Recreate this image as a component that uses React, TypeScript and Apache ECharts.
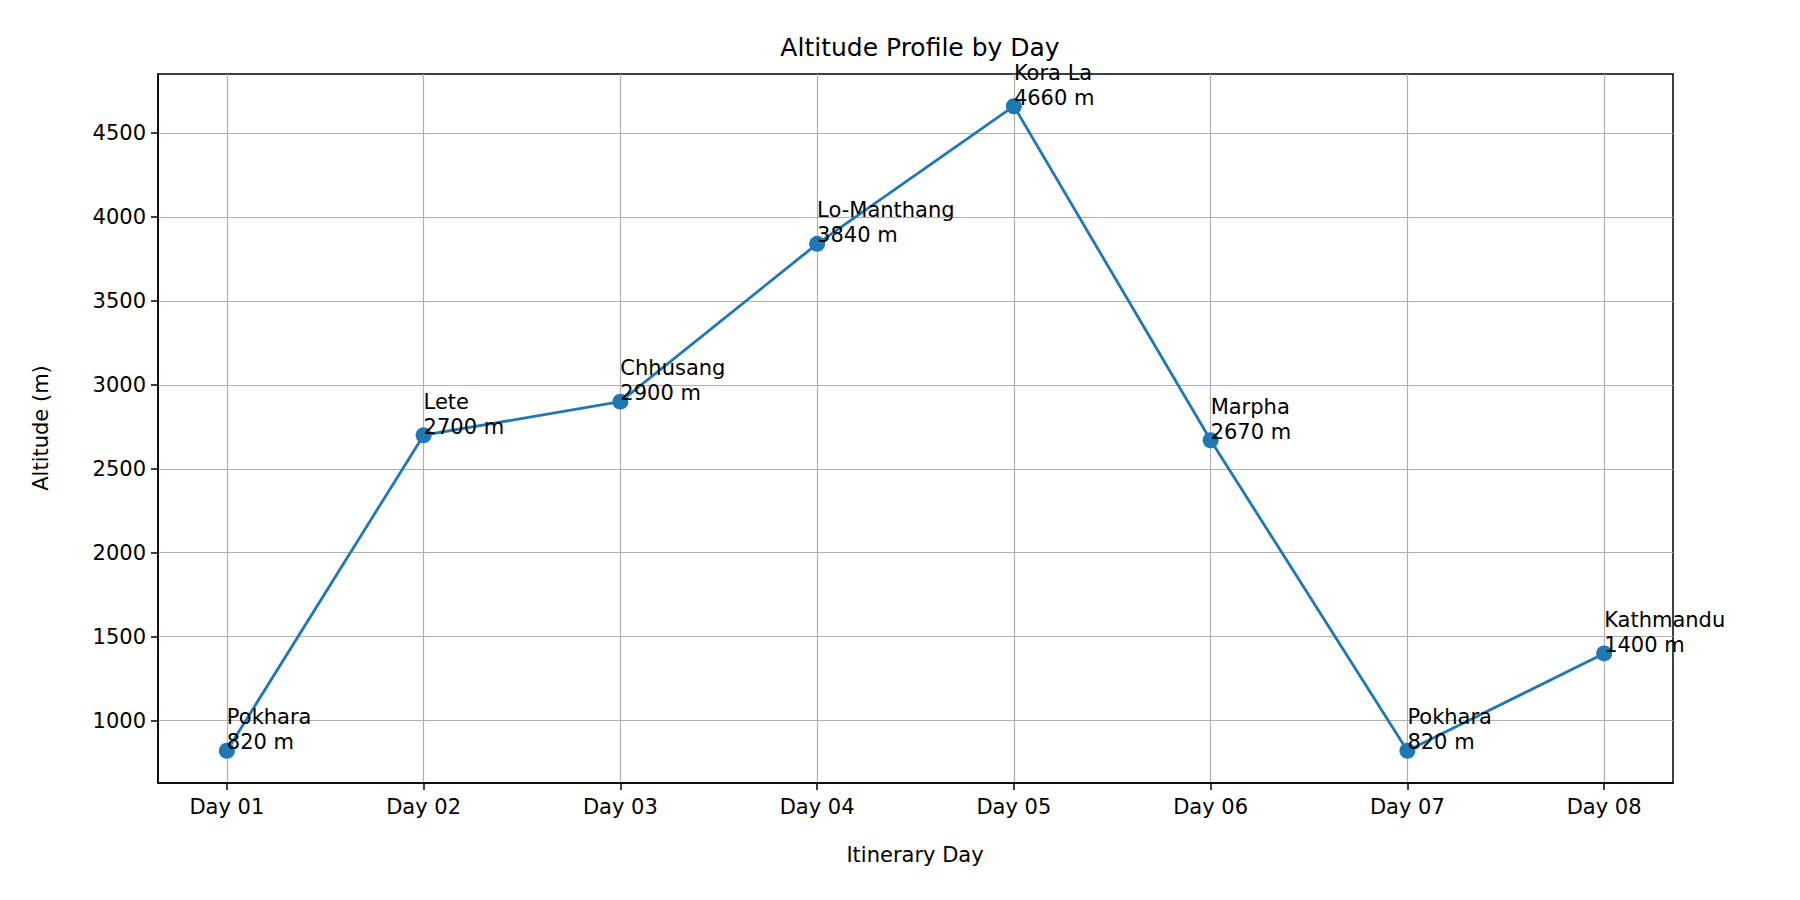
import React, { useEffect, useRef } from "react";
import * as echarts from "echarts";

const days = ["Day 01", "Day 02", "Day 03", "Day 04", "Day 05", "Day 06", "Day 07", "Day 08"];
const places = ["Pokhara", "Lete", "Chhusang", "Lo-Manthang", "Kora La", "Marpha", "Pokhara", "Kathmandu"];
const altitudes = [820, 2700, 2900, 3840, 4660, 2670, 820, 1400];
const yTicks = [1000, 1500, 2000, 2500, 3000, 3500, 4000, 4500];

const FONT = "DejaVu Sans";

const App = () => {
  const chartRef = useRef<HTMLDivElement>(null);

  useEffect(() => {
    if (!chartRef.current) return;
    const myChart = echarts.init(chartRef.current, null, { renderer: "svg" });
    const xIdx = days.map((_, i) => i);
    const option = {
      animation: false,
      backgroundColor: "#fff",
      textStyle: { fontFamily: FONT },
      title: {
        text: "Altitude Profile by Day",
        left: 915,
        top: 30,
        textAlign: "center",
        textStyle: { fontFamily: FONT, fontSize: 25, fontWeight: "normal", color: "#000" },
      },
      grid: {
        left: 158, right: 127, top: 74, bottom: 117,
        show: true, borderColor: "#000", borderWidth: 1.5,
      },
      xAxis: {
        type: "value",
        min: -0.35,
        max: 7.35,
        axisLine: { show: true, onZero: false, lineStyle: { color: "#000", width: 1.5 } },
        axisTick: { show: true, customValues: xIdx, length: 7, lineStyle: { color: "#000", width: 1.5 } },
        axisLabel: {
          customValues: xIdx,
          formatter: (v: number) => days[Math.round(v)] ?? "",
          color: "#000", fontSize: 21, fontFamily: FONT, margin: 13,
        },
        splitLine: { show: true, lineStyle: { color: "#b0b0b0", width: 1.2 } },
      },
      yAxis: {
        type: "value",
        min: 628,
        max: 4852,
        axisLine: { show: true, onZero: false, lineStyle: { color: "#000", width: 1.5 } },
        axisTick: { show: true, customValues: yTicks, length: 7, lineStyle: { color: "#000", width: 1.5 } },
        axisLabel: {
          customValues: yTicks,
          formatter: (v: number) => String(v),
          color: "#000", fontSize: 21, fontFamily: FONT, margin: 12,
        },
        splitLine: { show: true, lineStyle: { color: "#b0b0b0", width: 1.2 } },
      },
      graphic: [
        {
          type: "text", x: 915, y: 855,
          style: { text: "Itinerary Day", fontSize: 21, fontFamily: FONT, fill: "#000", align: "center", verticalAlign: "middle" },
        },
        {
          type: "text", x: 41, y: 428, rotation: Math.PI / 2,
          style: { text: "Altitude (m)", fontSize: 21, fontFamily: FONT, fill: "#000", align: "center", verticalAlign: "middle" },
        },
      ],
      series: [
        {
          type: "line",
          data: altitudes.map((a, i) => [i, a]),
          symbol: "circle",
          symbolSize: 16,
          lineStyle: { color: "#1f77b4", width: 2.8 },
          itemStyle: { color: "#1f77b4" },
          label: {
            show: true,
            position: [8, 12],
            align: "left",
            verticalAlign: "bottom",
            color: "#000",
            fontSize: 21,
            fontFamily: FONT,
            lineHeight: 25,
            formatter: (p: any) => `${places[p.dataIndex]}\n${altitudes[p.dataIndex]} m`,
          },
        },
      ],
    };
    myChart.setOption(option);
    return () => myChart.dispose();
  }, []);

  return (
    <div ref={chartRef} style={{ position: "fixed", left: 0, top: 0, width: "1800px", height: "900px" }} />
  );
};

export default App;
